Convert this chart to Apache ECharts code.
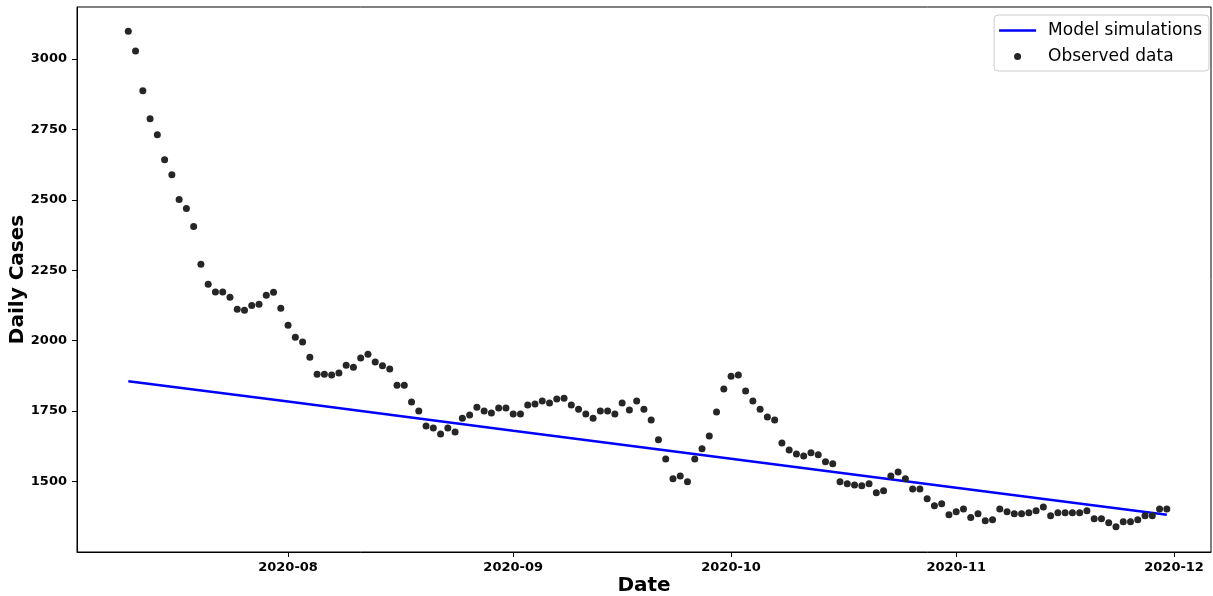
<!DOCTYPE html>
<html>
<head>
<meta charset="utf-8">
<script src="https://cdn.jsdelivr.net/npm/echarts@6/dist/echarts.min.js"></script>
<style>
  html, body { margin: 0; padding: 0; background: #fff; }
  #chart { width: 1213px; height: 596px; }
</style>
</head>
<body>
<div id="chart"></div>
<script>
// observed daily cases, one per day starting 2020-07-10
const startDate = [2020, 6, 10]
const observedCases = [
  3098, 3028, 2887, 2787, 2731, 2642, 2589, 2501, 2469, 2405,
  2271, 2200, 2173, 2173, 2154, 2111, 2108, 2125, 2129, 2161,
  2172, 2115, 2055, 2012, 1995, 1941, 1881, 1881, 1878, 1885,
  1913, 1906, 1938, 1952, 1924, 1911, 1899, 1842, 1842, 1782,
  1750, 1697, 1690, 1669, 1690, 1676, 1725, 1736, 1764, 1750,
  1743, 1761, 1761, 1740, 1740, 1772, 1775, 1786, 1779, 1793,
  1796, 1772, 1757, 1740, 1725, 1750, 1750, 1740, 1779, 1754,
  1786, 1757, 1718, 1648, 1580, 1510, 1520, 1499, 1580, 1616,
  1662, 1747, 1828, 1874, 1878, 1821, 1786, 1757, 1729, 1718,
  1637, 1612, 1598, 1591, 1602, 1595, 1570, 1563, 1499, 1492,
  1488, 1485, 1492, 1460, 1467, 1520, 1534, 1510, 1474, 1474,
  1439, 1414, 1421, 1382, 1393, 1403, 1372, 1386, 1361, 1364,
  1403, 1393, 1386, 1386, 1389, 1396, 1410, 1379, 1389, 1389,
  1389, 1389, 1396, 1368, 1368, 1354, 1340, 1357, 1357, 1364,
  1379, 1379, 1403, 1403
]

// model curve
const modelDates = ['2020-07-10', '2020-08-01', '2020-09-01', '2020-10-01', '2020-11-01', '2020-11-30']
const modelCases = [1856, 1784, 1680, 1581, 1478, 1382]

const font = 'DejaVu Sans'

function pad(n) { return String(n).padStart(2, '0') }

let observedData = observedCases.map((v, i) => {
  let d = new Date(startDate[0], startDate[1], startDate[2] + i)
  return [d.getTime(), v]
})
let modelData = modelDates.map((s, i) => {
  let p = s.split('-')
  return [new Date(+p[0], +p[1] - 1, +p[2]).getTime(), modelCases[i]]
})

let myChart = echarts.init(document.getElementById('chart'))

let option = {
  animation: false,
  grid: {
    left: 77,
    right: 2,
    top: 7,
    bottom: 44,
    outerBoundsMode: 'none',
    containLabel: false,
    show: true,
    borderColor: '#000',
    borderWidth: 1
  },
  legend: {
    orient: 'vertical',
    right: 4,
    top: 15,
    padding: [7, 7, 6, 5],
    backgroundColor: '#fff',
    borderColor: '#cccccc',
    borderWidth: 1,
    borderRadius: 4,
    itemWidth: 37,
    itemHeight: 7,
    itemGap: 9,
    textStyle: {
      fontFamily: font,
      fontSize: 17,
      color: '#000',
      padding: [0, 0, 0, 7]
    },
    data: [
      { name: 'Model simulations', icon: 'path://M0,0 L37,0 L37,2.5 L0,2.5 Z' },
      { name: 'Observed data', icon: 'circle' }
    ]
  },
  xAxis: {
    type: 'time',
    name: 'Date',
    nameLocation: 'middle',
    nameGap: 24,
    nameMoveOverlap: false,
    nameTextStyle: { fontFamily: font, fontSize: 20, fontWeight: 'bold', color: '#000' },
    min: new Date(2020, 6, 2, 22, 30).getTime(),
    max: new Date(2020, 11, 6, 2, 0).getTime(),
    splitNumber: 5,
    minInterval: 28 * 86400000,
    axisLine: { lineStyle: { color: '#000', width: 1 } },
    axisTick: { show: true, length: 5, lineStyle: { color: '#000' } },
    splitLine: { show: false },
    axisLabel: {
      fontFamily: font,
      fontSize: 13,
      fontWeight: 'bold',
      color: '#000',
      margin: 9,
      formatter: function (v) {
        let d = new Date(v)
        return d.getFullYear() + '-' + pad(d.getMonth() + 1)
      }
    }
  },
  yAxis: {
    type: 'value',
    name: 'Daily Cases',
    nameLocation: 'middle',
    nameGap: 49,
    nameMoveOverlap: false,
    nameTextStyle: { fontFamily: font, fontSize: 20, fontWeight: 'bold', color: '#000' },
    min: 1250,
    max: 3184,
    interval: 250,
    axisLine: { show: true, lineStyle: { color: '#000', width: 1 } },
    axisTick: { show: true, length: 5, lineStyle: { color: '#000' } },
    splitLine: { show: false },
    axisLabel: {
      fontFamily: font,
      fontSize: 13,
      fontWeight: 'bold',
      color: '#000',
      margin: 10,
      showMinLabel: false,
      showMaxLabel: false,
      formatter: function (v) {
        return v % 250 === 0 && v > 1250 ? String(v) : ''
      }
    }
  },
  series: [
    {
      name: 'Model simulations',
      type: 'line',
      symbol: 'none',
      data: modelData,
      lineStyle: { color: '#0000ff', width: 2.5 },
      itemStyle: { color: '#0000ff' },
      z: 2
    },
    {
      name: 'Observed data',
      type: 'scatter',
      symbol: 'circle',
      symbolSize: 7,
      data: observedData,
      itemStyle: { color: '#262626', opacity: 1 },
      z: 3
    }
  ]
}

myChart.setOption(option)
</script>
</body>
</html>
